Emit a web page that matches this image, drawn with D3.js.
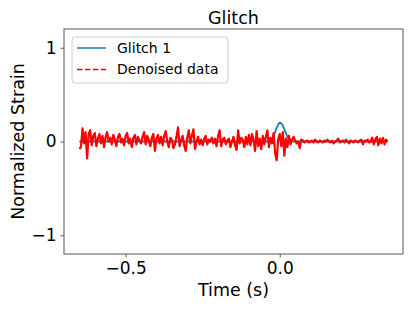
<!DOCTYPE html>
<html>
<head>
<meta charset="utf-8">
<script src="https://cdn.jsdelivr.net/npm/d3@7"></script>
<style>
  body { margin: 0; background: #fff; }
  svg { display: block; font-family: "DejaVu Sans", sans-serif; }
</style>
</head>
<body>
<div id="chart"></div>
<script>
// denoised data, sampled from -0.65 s every 0.005 s
const startTime = -0.65;
const step = 0.005;
const denoised = [
  -0.08, -0.06, 0.14, -0.02, 0.10, -0.18, 0.08, 0.12, -0.04, 0.06,
  0.09, -0.05, 0.03, 0.08, -0.02, 0.06, -0.06, 0.05, 0.10, 0.00,
  0.04, -0.03, 0.07, 0.02, -0.05, 0.05, 0.08, -0.01, 0.03, -0.04,
  0.06, 0.09, -0.02, 0.03, -0.06, 0.04, 0.07, -0.03, 0.05, 0.01,
  -0.02, 0.05, 0.10, -0.03, 0.06, 0.02, -0.05, 0.04, 0.08, -0.10,
  0.03, 0.07, -0.02, 0.05, -0.04, 0.06, 0.11, 0.00, -0.06, 0.04,
  0.02, -0.07, -0.03, 0.05, 0.15, -0.05, 0.02, 0.06, -0.04, -0.10,
  0.04, 0.12, -0.02, 0.06, 0.13, -0.08, 0.00, 0.05, -0.03, 0.02,
  -0.04, 0.03, 0.06, -0.03, 0.02, 0.00, 0.04, -0.02, 0.03, -0.05,
  0.06, 0.12, -0.05, 0.02, 0.04, -0.03, 0.01, 0.03, -0.06, 0.00,
  0.05, -0.04, -0.09, 0.12, -0.02, 0.04, 0.02, -0.06, 0.05, -0.03,
  0.07, -0.04, 0.08, 0.02, -0.10, 0.11, -0.05, 0.03, -0.08, 0.06,
  -0.03, 0.05, 0.12, -0.06, 0.04, -0.02, 0.09, -0.12, -0.20, 0.02,
  0.08, -0.05, 0.10, -0.15, 0.03, -0.06, 0.06, -0.03, 0.02, 0.05,
  0.01, -0.02, 0.00, -0.07, 0.02, 0.01, -0.01, 0.00, 0.01, -0.01,
  0.00, 0.01, -0.01, 0.02, 0.00, -0.01, 0.01, 0.00, -0.01, 0.01,
  0.00, 0.02, 0.00, -0.01, 0.01, -0.02, 0.00, 0.01, 0.03, -0.01,
  0.00, 0.01, -0.01, 0.02, 0.00, -0.02, 0.01, 0.00, -0.01, 0.01,
  0.00, -0.01, 0.01, 0.02, -0.03, 0.01, 0.00, 0.02, -0.01, 0.00,
  0.04, -0.03, 0.02, 0.05, -0.04, 0.03, -0.02, 0.04, -0.03, 0.02,
  0.00
];

// glitch template
const glitchTime = [-0.65, -0.04, -0.035, -0.03, -0.025, -0.02, -0.015, -0.01, -0.005, 0,
  0.005, 0.01, 0.015, 0.02, 0.025, 0.03, 0.035, 0.04, 0.35];
const glitchValues = [0, 0, 0.005, 0.015, 0.035, 0.065, 0.10, 0.145, 0.18, 0.20,
  0.195, 0.17, 0.13, 0.09, 0.05, 0.025, 0.01, 0, 0];

const xTicks = [-0.5, 0.0];
const yTicks = [-1, 0, 1];
const legendLabels = ["Glitch 1", "Denoised data"];

const width = 415, height = 311;
const margin = { top: 29, right: 12, bottom: 57, left: 64 };

const svg = d3.select("#chart").append("svg")
  .attr("width", width)
  .attr("height", height);

const x = d3.scaleLinear()
  .domain([-0.70, 0.40])
  .range([margin.left, width - margin.right]);
const y = d3.scaleLinear()
  .domain([-1.2, 1.2])
  .range([height - margin.bottom, margin.top]);

const redData = denoised.map((v, i) => [startTime + i * step, v]);
const blueData = glitchTime.map((t, i) => [t, glitchValues[i]]);

const line = d3.line().x(d => x(d[0])).y(d => y(d[1]));

svg.append("defs").append("clipPath").attr("id", "clip")
  .append("rect")
    .attr("x", margin.left).attr("y", margin.top)
    .attr("width", width - margin.left - margin.right)
    .attr("height", height - margin.top - margin.bottom);

const plot = svg.append("g").attr("clip-path", "url(#clip)");

plot.append("path")
  .datum(blueData)
  .attr("fill", "none")
  .attr("stroke", "#1f77b4")
  .attr("stroke-width", 1.8)
  .attr("d", line.curve(d3.curveMonotoneX));

plot.append("path")
  .datum(redData)
  .attr("fill", "none")
  .attr("stroke", "#ff0000")
  .attr("stroke-width", 2.2)
  .attr("stroke-linejoin", "round")
  .attr("d", line.curve(d3.curveLinear));

// axes
const fmtX = d => d3.format(".1f")(d).replace("-", "\u2212");
const fmtY = d => d3.format("d")(d).replace("-", "\u2212");

svg.append("g")
  .attr("transform", `translate(0,${height - margin.bottom})`)
  .call(d3.axisBottom(x).tickValues(xTicks).tickFormat(fmtX).tickSize(3.5).tickPadding(4))
  .call(g => g.select(".domain").remove())
  .call(g => g.selectAll("line").attr("stroke", "#333").attr("stroke-width", 0.8))
  .call(g => g.selectAll("text").attr("font-size", 17).attr("fill", "#000")
    .attr("font-family", "DejaVu Sans"));

svg.append("g")
  .attr("transform", `translate(${margin.left},0)`)
  .call(d3.axisLeft(y).tickValues(yTicks).tickFormat(fmtY).tickSize(3.5).tickPadding(4))
  .call(g => g.select(".domain").remove())
  .call(g => g.selectAll("line").attr("stroke", "#333").attr("stroke-width", 0.8))
  .call(g => g.selectAll("text").attr("font-size", 17).attr("fill", "#000")
    .attr("font-family", "DejaVu Sans"));

// frame
svg.append("rect")
  .attr("x", margin.left).attr("y", margin.top)
  .attr("width", width - margin.left - margin.right)
  .attr("height", height - margin.top - margin.bottom)
  .attr("fill", "none")
  .attr("stroke", "#555")
  .attr("stroke-width", 1);

// title and labels
svg.append("text")
  .attr("x", (margin.left + width - margin.right) / 2)
  .attr("y", 24)
  .attr("text-anchor", "middle")
  .attr("font-size", 17.5)
  .text("Glitch");

svg.append("text")
  .attr("x", (margin.left + width - margin.right) / 2)
  .attr("y", 296)
  .attr("text-anchor", "middle")
  .attr("font-size", 17.5)
  .text("Time (s)");

svg.append("text")
  .attr("transform", `translate(24,${(margin.top + height - margin.bottom) / 2}) rotate(-90)`)
  .attr("text-anchor", "middle")
  .attr("font-size", 17.5)
  .text("Normalized Strain");

// legend
const legend = svg.append("g").attr("transform", "translate(72,37)");
legend.append("rect")
  .attr("width", 156).attr("height", 46)
  .attr("rx", 3)
  .attr("fill", "#fff").attr("fill-opacity", 0.8)
  .attr("stroke", "#ccc").attr("stroke-width", 1);

const items = legend.selectAll("g.item")
  .data(legendLabels)
  .join("g")
    .attr("class", "item")
    .attr("transform", (d, i) => `translate(0,${11 + i * 21.5})`);

items.append("line")
  .attr("x1", 5).attr("x2", 34)
  .attr("stroke", (d, i) => i === 0 ? "#1f77b4" : "#ff0000")
  .attr("stroke-width", 1.5)
  .attr("stroke-dasharray", (d, i) => i === 0 ? null : "5.5,2.4");

items.append("text")
  .attr("x", 45)
  .attr("dy", "0.35em")
  .attr("font-size", 14)
  .text(d => d);
</script>
</body>
</html>
